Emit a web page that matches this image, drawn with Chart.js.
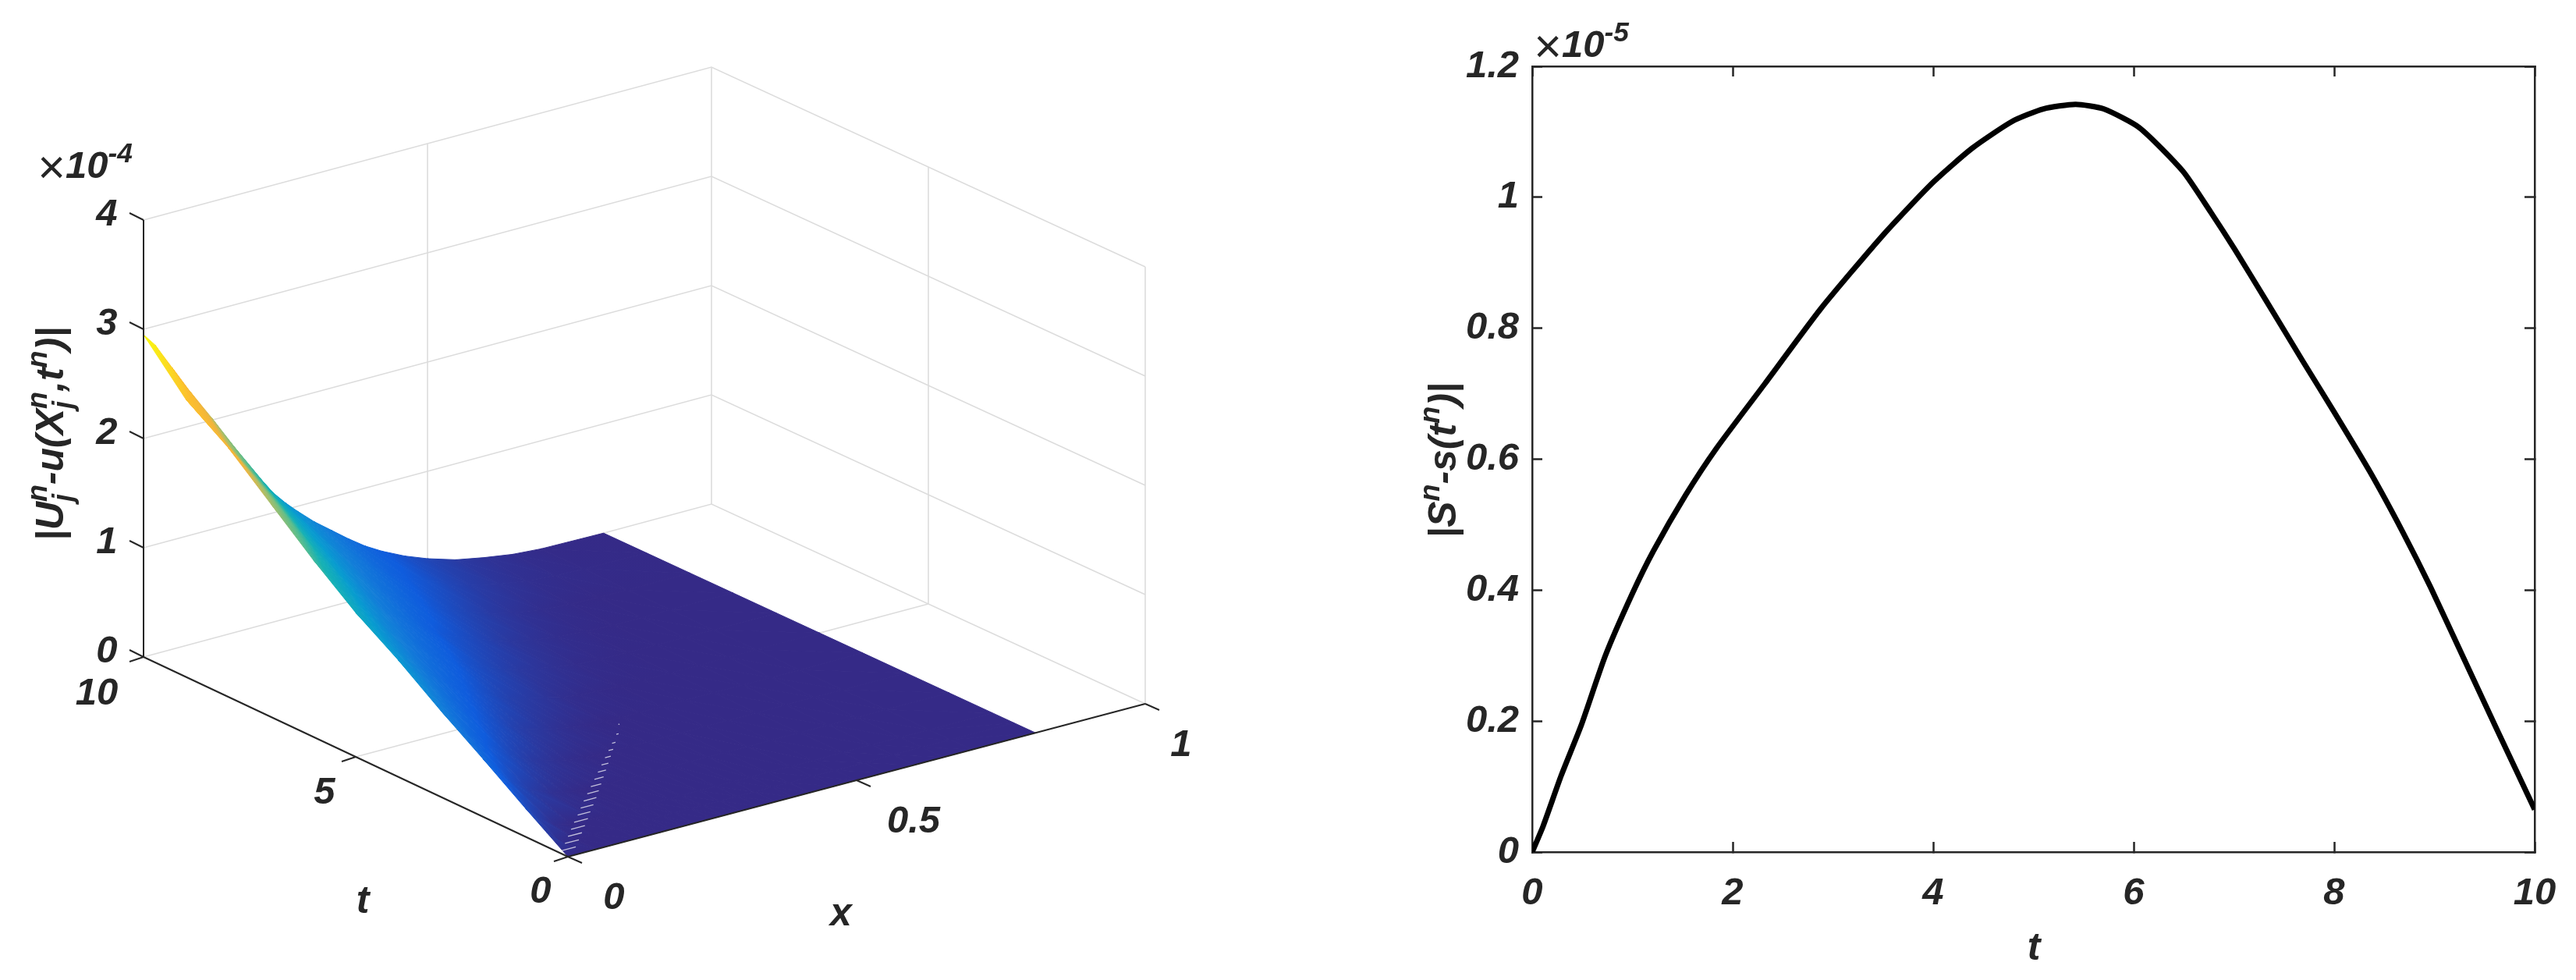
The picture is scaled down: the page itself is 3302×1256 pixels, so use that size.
<!DOCTYPE html>
<html>
<head>
<meta charset="utf-8">
<title>Numerical errors</title>
<script src="https://cdn.jsdelivr.net/npm/chart.js@4/dist/chart.umd.min.js"></script>
<style>
  html, body { margin: 0; background: #fff; }
  canvas { position: absolute; top: 0; }
  #surface-chart { left: 0; }
  #front-chart { left: 1651px; }
</style>
</head>
<body>
<canvas id="surface-chart" width="1651" height="1256"></canvas>
<canvas id="front-chart" width="1651" height="1256"></canvas>
<script>
// left panel: error surface, values in units of 1e-4
const xGrid = [0, 0.02, 0.05, 0.08, 0.12, 0.14, 0.16, 0.18, 0.2, 0.22, 0.25, 0.27, 0.3, 0.33, 0.36, 0.39, 0.42, 0.46, 0.5, 0.55, 0.6, 0.65, 0.7, 0.81];
const tGrid = [0, 0.5, 1, 2, 3, 4, 5, 6, 7, 8, 9, 10];
const zError = [
  [0, 0, 0, 0, 0, 0, 0, 0, 0, 0, 0, 0, 0, 0, 0, 0, 0, 0, 0, 0, 0, 0, 0, 0],
  [0.13, 0.04, 0, 0, 0, 0, 0, 0, 0, 0, 0, 0, 0, 0, 0, 0, 0, 0, 0, 0, 0, 0, 0, 0],
  [0.26, 0.15, 0.04, 0, 0, 0, 0, 0, 0, 0, 0, 0, 0, 0, 0, 0, 0, 0, 0, 0, 0, 0, 0, 0],
  [0.53, 0.41, 0.25, 0.14, 0.05, 0.03, 0.01, 0, 0, 0, 0, 0, 0, 0, 0, 0, 0, 0, 0, 0, 0, 0, 0, 0],
  [0.79, 0.68, 0.50, 0.36, 0.22, 0.16, 0.11, 0.08, 0.05, 0.03, 0.01, 0, 0, 0, 0, 0, 0, 0, 0, 0, 0, 0, 0, 0],
  [1.07, 0.95, 0.78, 0.61, 0.42, 0.35, 0.29, 0.23, 0.17, 0.13, 0.09, 0.06, 0.03, 0.01, 0, 0, 0, 0, 0, 0, 0, 0, 0, 0],
  [1.32, 1.20, 1.02, 0.85, 0.64, 0.55, 0.46, 0.40, 0.34, 0.28, 0.20, 0.16, 0.12, 0.08, 0.04, 0.02, 0.01, 0, 0, 0, 0, 0, 0, 0],
  [1.62, 1.49, 1.30, 1.11, 0.87, 0.77, 0.68, 0.59, 0.51, 0.45, 0.35, 0.29, 0.22, 0.16, 0.11, 0.08, 0.05, 0.02, 0.01, 0, 0, 0, 0, 0],
  [1.95, 1.82, 1.62, 1.41, 1.14, 1.02, 0.91, 0.80, 0.70, 0.62, 0.51, 0.43, 0.33, 0.27, 0.21, 0.15, 0.10, 0.06, 0.03, 0.01, 0, 0, 0, 0],
  [2.28, 2.14, 1.92, 1.70, 1.42, 1.29, 1.16, 1.04, 0.93, 0.83, 0.69, 0.60, 0.50, 0.40, 0.32, 0.25, 0.19, 0.12, 0.07, 0.03, 0.01, 0, 0, 0],
  [2.54, 2.42, 2.20, 1.98, 1.68, 1.54, 1.41, 1.28, 1.16, 1.05, 0.88, 0.79, 0.67, 0.55, 0.44, 0.36, 0.30, 0.21, 0.14, 0.08, 0.04, 0.02, 0.01, 0],
  [2.95, 2.83, 2.58, 2.33, 2.02, 1.85, 1.67, 1.50, 1.35, 1.23, 1.06, 0.96, 0.82, 0.70, 0.58, 0.47, 0.38, 0.28, 0.20, 0.12, 0.07, 0.03, 0.01, 0]
];
// the little white gaps in the mesh near the origin
const gapX = [0.02, 0.04, 0.06, 0.08, 0.10, 0.12, 0.14, 0.16, 0.18, 0.20, 0.22, 0.24, 0.26, 0.28, 0.30, 0.32, 0.345, 0.37];
const gapT = [0.25, 0.45, 0.65, 0.85, 1.05, 1.25, 1.45, 1.65, 1.85, 2.05, 2.25, 2.45, 2.65, 2.85, 3.05, 3.25, 3.5, 3.8];
const gapLen = [0.012, 0.012, 0.012, 0.012, 0.012, 0.011, 0.011, 0.011, 0.01, 0.009, 0.008, 0.007, 0.006, 0.005, 0.004, 0.003, 0.002, 0.001];
const surfaceXTicks = [0, 0.5, 1];
const surfaceTTicks = [0, 5, 10];
const surfaceZTicks = [0, 1, 2, 3, 4];
const surfaceXLabels = ['0', '0.5', '1'];
const surfaceTLabels = ['0', '5', '10'];
const surfaceZLabels = ['0', '1', '2', '3', '4'];

// right panel: free boundary error, values in units of 1e-5
const frontT = [0, 0.11, 0.29, 0.49, 0.73, 1.0, 1.21, 1.53, 1.84, 2.32, 2.88, 3.51, 4.0, 4.39, 4.79, 5.1, 5.42, 5.7, 6.06, 6.49, 6.77, 7.01, 7.33, 7.69, 8.0, 8.36, 8.68, 8.96, 9.28, 9.63, 10];
const frontError = [0, 0.04, 0.117, 0.194, 0.30, 0.395, 0.46, 0.545, 0.617, 0.715, 0.83, 0.944, 1.023, 1.075, 1.116, 1.135, 1.142, 1.135, 1.106, 1.04, 0.977, 0.92, 0.84, 0.749, 0.672, 0.58, 0.49, 0.405, 0.30, 0.185, 0.065];
const frontXLabels = ['0', '2', '4', '6', '8', '10'];
const frontYLabels = ['0', '0.2', '0.4', '0.6', '0.8', '1', '1.2'];

const INK = '#262626';
const GRID = '#dcdcdc';
const FONT = '"Liberation Sans", Arial, sans-serif';

// colour ramp of the surface, picked off the original
const rampZ = [0, 0.37, 0.74, 1.1, 1.48, 1.7, 1.95, 2.15, 2.5, 2.95];
const rampRGB = [[53,42,135],[15,92,221],[18,125,216],[7,156,207],[21,177,180],[89,189,140],[165,190,107],[240,180,60],[252,190,45],[249,251,14]];

function rampAt(z) {
  let i = 0;
  while (i < rampZ.length - 2 && z > rampZ[i + 1]) i++;
  const f = Math.min(Math.max((z - rampZ[i]) / (rampZ[i + 1] - rampZ[i]), 0), 1);
  const c = rampRGB[i].map((v, k) => Math.round(v + (rampRGB[i + 1][k] - v) * f));
  return `rgb(${c[0]},${c[1]},${c[2]})`;
}

// floor corners of the 3d box, in the view scale (canvas units)
const corner = { front: [728, 1098], right: [1468, 902], left: [184, 842], back: [912, 646] };
const zUnit = 140;

function project(x, t, z) {
  const u = x, v = t / 10;
  const px = (1-u)*(1-v)*corner.front[0] + u*(1-v)*corner.right[0] + (1-u)*v*corner.left[0] + u*v*corner.back[0];
  const py = (1-u)*(1-v)*corner.front[1] + u*(1-v)*corner.right[1] + (1-u)*v*corner.left[1] + u*v*corner.back[1];
  return { x: px, y: py - z * zUnit };
}

function lineSet(points, color, width) {
  return { data: points, showLine: true, pointRadius: 0, borderColor: color, borderWidth: width, fill: false, spanGaps: false };
}

// smooth (gouraud) colour across one triangle of the mesh
function triangleShade(verts) {
  return function (ctx) {
    const sorted = verts.slice().sort((a, b) => a.z - b.z);
    const lo = sorted[0], mid = sorted[1], hi = sorted[2];
    if (hi.z - lo.z < 0.0005) return rampAt(lo.z);
    const sx = ctx.chart.scales.x, sy = ctx.chart.scales.y;
    const pix = v => { const p = project(v.x, v.t, v.z); return [sx.getPixelForValue(p.x), sy.getPixelForValue(p.y)]; };
    const a = pix(lo), b = pix(mid), c = pix(hi);
    // scales are not laid out yet on the first pass
    if (!isFinite(a[0] + a[1] + c[0] + c[1])) return rampAt(lo.z);
    const f = (mid.z - lo.z) / (hi.z - lo.z);
    const q = [a[0] + (c[0] - a[0]) * f, a[1] + (c[1] - a[1]) * f];
    let nx = -(b[1] - q[1]), ny = b[0] - q[0];
    const len = Math.hypot(nx, ny);
    let end = c;
    if (len > 1e-6) {
      nx /= len; ny /= len;
      const d = (c[0] - a[0]) * nx + (c[1] - a[1]) * ny;
      end = [a[0] + nx * d, a[1] + ny * d];
    }
    const g = ctx.chart.ctx.createLinearGradient(a[0], a[1], end[0], end[1]);
    g.addColorStop(0, rampAt(lo.z));
    rampZ.forEach(kz => {
      if (kz > lo.z && kz < hi.z) g.addColorStop((kz - lo.z) / (hi.z - lo.z), rampAt(kz));
    });
    g.addColorStop(1, rampAt(hi.z));
    return g;
  };
}

function triangleSet(a, b, c) {
  const verts = [a, b, c];
  const shade = triangleShade(verts);
  return {
    data: verts.concat([a]).map(v => project(v.x, v.t, v.z)),
    showLine: true, pointRadius: 0, fill: 'shape',
    backgroundColor: shade, borderColor: shade, borderWidth: 1
  };
}

// draw order, first = bottom. chart.js paints index 0 last so this gets reversed below
const layers = [];

// walls and floor
const wallTop = 4;
surfaceZTicks.forEach(z => {
  layers.push(lineSet([project(0, 10, z), project(1, 10, z), project(1, 0, z)], GRID, 1.6));
});
layers.push(lineSet([project(0.5, 10, 0), project(0.5, 10, wallTop)], GRID, 1.6));
layers.push(lineSet([project(1, 10, 0), project(1, 10, wallTop)], GRID, 1.6));
layers.push(lineSet([project(1, 5, 0), project(1, 5, wallTop)], GRID, 1.6));
layers.push(lineSet([project(1, 0, 0), project(1, 0, wallTop)], GRID, 1.6));
layers.push(lineSet([project(0.5, 0, 0), project(0.5, 10, 0)], GRID, 1.6));
layers.push(lineSet([project(0, 5, 0), project(1, 5, 0)], GRID, 1.6));

// surface, back to front
for (let r = tGrid.length - 2; r >= 0; r--) {
  for (let c = xGrid.length - 2; c >= 0; c--) {
    const p00 = { x: xGrid[c], t: tGrid[r], z: zError[r][c] };
    const p10 = { x: xGrid[c + 1], t: tGrid[r], z: zError[r][c + 1] };
    const p01 = { x: xGrid[c], t: tGrid[r + 1], z: zError[r + 1][c] };
    const p11 = { x: xGrid[c + 1], t: tGrid[r + 1], z: zError[r + 1][c + 1] };
    layers.push(triangleSet(p01, p11, p10));
    layers.push(triangleSet(p00, p01, p10));
  }
}

const gapPoints = [];
gapX.forEach((x, i) => {
  gapPoints.push(project(x - gapLen[i], gapT[i], 0), project(x + gapLen[i], gapT[i], 0), { x: NaN, y: NaN });
});
layers.push(lineSet(gapPoints, 'rgba(255,255,255,0.7)', 1.3));

// axes and ticks
layers.push(lineSet([project(0, 10, 0), project(0, 10, wallTop)], INK, 2));
layers.push(lineSet([project(0, 10, 0), project(0, 0, 0)], INK, 2));
layers.push(lineSet([project(0, 0, 0), project(1, 0, 0)], INK, 2));
surfaceZTicks.forEach(z => {
  const p = project(0, 10, z);
  layers.push(lineSet([p, { x: p.x - 18, y: p.y - 9 }], INK, 2));
});
surfaceTTicks.forEach(t => {
  const p = project(0, t, 0);
  layers.push(lineSet([p, { x: p.x - 18, y: p.y + 6 }], INK, 2));
});
surfaceXTicks.forEach(x => {
  const p = project(x, 0, 0);
  layers.push(lineSet([p, { x: p.x + 18, y: p.y + 8 }], INK, 2));
});

// text with sub and superscripts, centred on (x, y)
function drawMath(ctx, x, y, runs, size, angle) {
  const bold = s => `italic bold ${s}px ${FONT}`;
  const small = size * 0.72;
  const thinFont = `${size * 1.25}px ${FONT}`;
  const widthOf = run => {
    if (run.thin) { ctx.font = thinFont; return ctx.measureText(run.thin).width; }
    if (run.sup || run.sub) {
      ctx.font = bold(small);
      return Math.max(ctx.measureText(run.sup || '').width, ctx.measureText(run.sub || '').width);
    }
    ctx.font = bold(size);
    return ctx.measureText(run.text).width;
  };
  const total = runs.reduce((w, r) => w + widthOf(r), 0);
  ctx.save();
  ctx.translate(x, y);
  ctx.rotate(angle || 0);
  ctx.fillStyle = INK;
  ctx.textAlign = 'left';
  ctx.textBaseline = 'alphabetic';
  let pen = -total / 2;
  const base = size * 0.35;
  runs.forEach(r => {
    const w = widthOf(r);
    if (r.thin) {
      ctx.font = thinFont;
      ctx.fillText(r.thin, pen, base + size * 0.14);
    } else if (r.sup || r.sub) {
      ctx.font = bold(small);
      if (r.sup) ctx.fillText(r.sup, pen, base - size * 0.42);
      if (r.sub) ctx.fillText(r.sub, pen, base + size * 0.24);
    } else {
      ctx.font = bold(size);
      ctx.fillText(r.text, pen, base);
    }
    pen += w;
  });
  ctx.restore();
}

const surfaceText = {
  id: 'surfaceText',
  afterDraw(chart) {
    const ctx = chart.ctx;
    const sx = chart.scales.x, sy = chart.scales.y;
    const at = (p, dx, dy) => [sx.getPixelForValue(p.x) + dx, sy.getPixelForValue(p.y) + dy];
    const tick = (label, pos) => drawMath(ctx, pos[0], pos[1], [{ text: label }], 49);
    surfaceZTicks.forEach((z, i) => tick(surfaceZLabels[i], at(project(0, 10, z), -47, -10)));
    const tShift = [[-35, 42], [-40, 43], [-60, 44]];
    surfaceTTicks.forEach((t, i) => tick(surfaceTLabels[i], at(project(0, t, 0), tShift[i][0], tShift[i][1])));
    const xShift = [[59, 50], [73, 50], [46, 50]];
    surfaceXTicks.forEach((x, i) => tick(surfaceXLabels[i], at(project(x, 0, 0), xShift[i][0], xShift[i][1])));
    drawMath(ctx, 465, 1152, [{ text: 't' }], 50);
    drawMath(ctx, 1078, 1168, [{ text: 'x' }], 50);
    drawMath(ctx, 63, 556, [
      { text: '|U' }, { sup: 'n', sub: 'j' }, { text: '-u(X' }, { sup: 'n', sub: 'j' },
      { text: ',t' }, { sup: 'n' }, { text: ')|' }
    ], 50, -Math.PI / 2);
    drawMath(ctx, 109, 211, [{ thin: '\u00d7' }, { text: '10' }, { sup: '-4' }], 49);
  }
};

new Chart(document.getElementById('surface-chart'), {
  type: 'scatter',
  data: { datasets: layers.reverse() },
  options: {
    responsive: false,
    devicePixelRatio: 1,
    animation: false,
    events: [],
    layout: { padding: 0 },
    plugins: { legend: { display: false }, tooltip: { enabled: false } },
    scales: {
      x: { type: 'linear', min: 0, max: 1651, display: false },
      y: { type: 'linear', min: 0, max: 1256, reverse: true, display: false }
    }
  },
  plugins: [surfaceText]
});

const tickFont = { family: FONT, size: 49, weight: 'bold', style: 'italic' };

function boxGrid() {
  return { drawOnChartArea: false, drawTicks: true, tickLength: -13, tickWidth: 2.5, tickColor: INK };
}
// fixed axis boxes so the plot area lands where the original has it
const fixHeight = h => scale => { scale.height = h; scale.paddingLeft = 0; scale.paddingRight = 0; };
const fixWidth = w => scale => { scale.width = w; scale.paddingTop = 0; scale.paddingBottom = 0; };

const frontText = {
  id: 'frontText',
  afterDraw(chart) {
    const ctx = chart.ctx;
    drawMath(ctx, 956, 1212, [{ text: 't' }], 50);
    drawMath(ctx, 197, 590, [
      { text: '|S' }, { sup: 'n' }, { text: '-s(t' }, { sup: 'n' }, { text: ')|' }
    ], 50, -Math.PI / 2);
    drawMath(ctx, 376, 56, [{ thin: '\u00d7' }, { text: '10' }, { sup: '-5' }], 49);
  }
};

new Chart(document.getElementById('front-chart'), {
  type: 'scatter',
  data: {
    datasets: [{
      data: frontT.map((t, i) => ({ x: t, y: frontError[i] })),
      showLine: true,
      pointRadius: 0,
      borderColor: '#000',
      borderWidth: 7,
      tension: 0.2,
      fill: false
    }]
  },
  options: {
    responsive: false,
    devicePixelRatio: 1,
    animation: false,
    events: [],
    layout: { padding: { left: 0, right: 53, top: 85, bottom: 0 } },
    plugins: { legend: { display: false }, tooltip: { enabled: false } },
    scales: {
      x: {
        type: 'linear', position: 'bottom', min: 0, max: 10,
        grid: boxGrid(), border: { color: INK, width: 2.5 }, afterFit: fixHeight(164),
        ticks: {
          stepSize: 2, padding: 37, maxRotation: 0, autoSkip: false, color: INK, font: tickFont,
          callback: (v, i) => frontXLabels[i]
        }
      },
      y: {
        type: 'linear', position: 'left', min: 0, max: 1.2,
        grid: boxGrid(), border: { color: INK, width: 2.5 }, afterFit: fixWidth(313),
        ticks: {
          stepSize: 0.2, padding: 30, autoSkip: false, color: INK, font: tickFont,
          callback: (v, i) => frontYLabels[i]
        }
      },
      xTop: {
        type: 'linear', position: 'top', min: 0, max: 10,
        grid: boxGrid(), border: { color: INK, width: 2.5 }, afterFit: fixHeight(0),
        ticks: { stepSize: 2, display: false }
      },
      yRight: {
        type: 'linear', position: 'right', min: 0, max: 1.2,
        grid: boxGrid(), border: { color: INK, width: 2.5 }, afterFit: fixWidth(0),
        ticks: { stepSize: 0.2, display: false }
      }
    }
  },
  plugins: [frontText]
});
</script>
</body>
</html>
